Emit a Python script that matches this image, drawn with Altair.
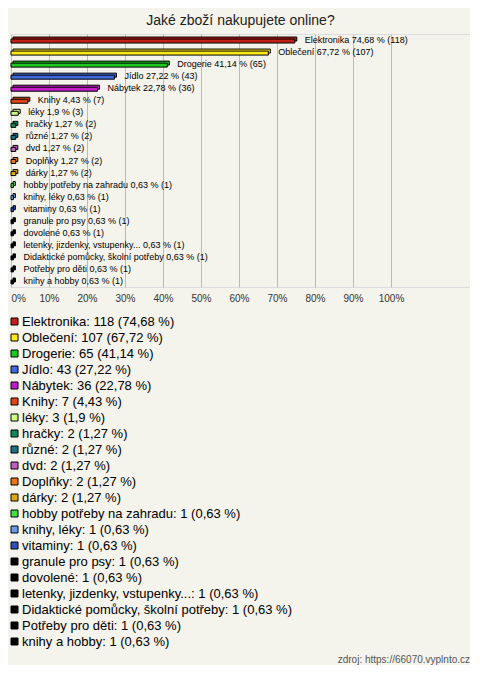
import altair as alt
import pandas as pd

chart_title = "Jaké zboží nakupujete online?"
source_note = "zdroj: https://66070.vyplnto.cz"

categories = [
    "Elektronika", "Oblečení", "Drogerie", "Jídlo", "Nábytek", "Knihy", "léky",
    "hračky", "různé", "dvd", "Doplňky", "dárky", "hobby potřeby na zahradu",
    "knihy, léky", "vitaminy", "granule pro psy", "dovolené",
    "letenky, jizdenky, vstupenky...", "Didaktické pomůcky, školní potřeby",
    "Potřeby pro děti", "knihy a hobby",
]
counts = [118, 107, 65, 43, 36, 7, 3, 2, 2, 2, 2, 2, 1, 1, 1, 1, 1, 1, 1, 1, 1]
percents = [74.68, 67.72, 41.14, 27.22, 22.78, 4.43, 1.9, 1.27, 1.27, 1.27, 1.27,
            1.27, 0.63, 0.63, 0.63, 0.63, 0.63, 0.63, 0.63, 0.63, 0.63]
colors = [
    "#c4201a", "#ffe81a", "#1ec81e", "#4068e0", "#c01ccc", "#e04414", "#ccff88",
    "#12885a", "#1a7486", "#c060c0", "#e87814", "#e0aa10", "#44e044",
    "#6c9ae8", "#3050b8", "#000000", "#000000", "#000000", "#000000",
    "#000000", "#000000",
]
x_ticks = [0, 10, 20, 30, 40, 50, 60, 70, 80, 90, 100]

FONT = "Liberation Sans"


def fmt(p):
    return f"{p:g}".replace(".", ",")


df = pd.DataFrame({"cat": categories, "n": counts, "pct": percents})
df["lab"] = [f"{c} {fmt(p)} % ({n})" for c, n, p in zip(categories, counts, percents)]
legend_labels = [f"{c}: {n} ({fmt(p)} %)" for c, n, p in zip(categories, counts, percents)]
df["leg"] = legend_labels

x_enc = alt.X(
    "pct:Q",
    scale=alt.Scale(domain=[0, 120.79], nice=False, zero=True),
    axis=alt.Axis(
        values=x_ticks, labelExpr="datum.value + '%'", title=None, domain=False,
        ticks=False, grid=True, gridColor="#bbbbbb", gridWidth=1, labelFlush=True,
        labelPadding=6, labelFontSize=10, labelFont=FONT, labelColor="#333333",
    ),
)
y_enc = alt.Y("cat:N", sort=categories,
              scale=alt.Scale(paddingInner=0, paddingOuter=0), axis=None)
color_enc = alt.Color(
    "leg:N",
    scale=alt.Scale(domain=legend_labels, range=colors),
    legend=alt.Legend(
        title=None, orient="none", legendX=-3, legendY=281, symbolType="square",
        symbolSize=49, symbolStrokeColor="black", symbolStrokeWidth=1,
        labelFontSize=13, labelFont=FONT, labelColor="black", rowPadding=2,
        padding=0, labelLimit=0, labelOffset=1,
    ),
)

base = alt.Chart(df)
back = base.mark_bar(size=4, xOffset=2, x2Offset=2, yOffset=-1, stroke="black",
                     strokeWidth=1).encode(x=x_enc, y=y_enc, color=color_enc)
front = base.mark_bar(size=4, yOffset=1, stroke="black", strokeWidth=1).encode(
    x=x_enc, y=y_enc, color=color_enc)
labels = base.mark_text(align="left", baseline="middle", dx=10, fontSize=9,
                        font=FONT, color="black").encode(x=x_enc, y=y_enc, text="lab:N")
footer = alt.Chart(pd.DataFrame({"t": [source_note]})).mark_text(
    align="right", baseline="middle", fontSize=10, font=FONT, color="#555555"
).encode(x=alt.value(459), y=alt.value(626), text="t:N")

chart = alt.layer(back, front, labels, footer).properties(
    width=459, height=253,
    title=alt.TitleParams(chart_title, fontSize=14, font=FONT, fontWeight="normal",
                          color="#222222", anchor="middle", offset=6),
    padding={"left": 0, "top": 6, "right": 0, "bottom": 0},
).configure_view(stroke="black", strokeWidth=1, fill="white").configure(
    background="#f4f3ec")

chart.save("out.html", embed_options={"renderer": "svg", "actions": False})
